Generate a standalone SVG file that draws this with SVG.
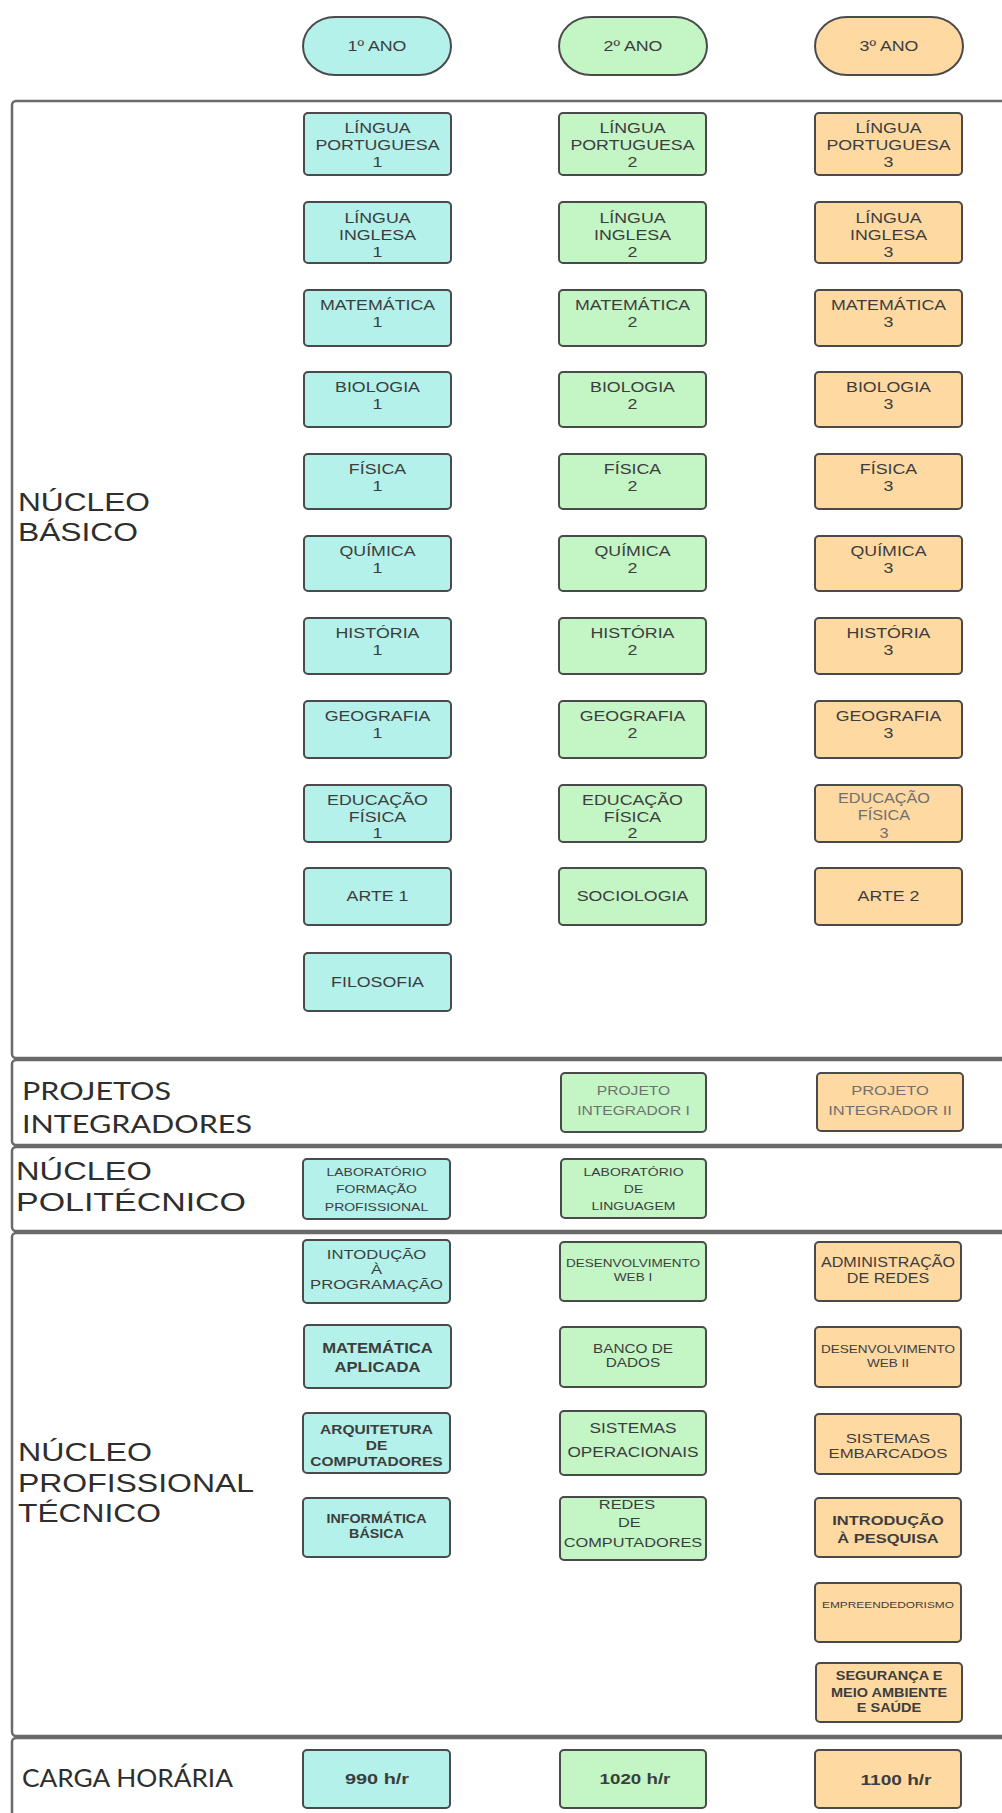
<svg xmlns="http://www.w3.org/2000/svg" width="1002" height="1813" viewBox="0 0 1002 1813">
<style>
.sec{fill:none;stroke:#6a6a6a;stroke-width:2.5}
.b{stroke:#4a4a4a;stroke-width:2}
.c1{fill:#b3f1ea}.c2{fill:#c3f5c5}.c3{fill:#fed9a2}
text{font-family:"Liberation Sans",Arial,sans-serif;fill:#3d3d3d}
.t text{text-anchor:middle;font-size:14px}
.lab{font-size:25px;fill:#2e2e2e}
.cal{font-family:Lato,"Liberation Sans",sans-serif}
.bd text{font-weight:bold}
.gr text{fill:#707070}
</style>
<rect width="1002" height="1813" fill="#ffffff"/>

<!-- sections -->
<g id="sections">
<g id="sec-basico"><rect class="sec" x="12" y="101" width="1010" height="957" rx="4"/>
<text class="lab" x="18" y="511" textLength="132" lengthAdjust="spacingAndGlyphs">NÚCLEO</text>
<text class="lab" x="18" y="541" textLength="120" lengthAdjust="spacingAndGlyphs">BÁSICO</text></g>
<g id="sec-projetos"><rect class="sec" x="12" y="1060" width="1010" height="85" rx="4"/>
<text class="lab cal" x="22" y="1100" font-size="24" textLength="149" lengthAdjust="spacingAndGlyphs">PROJETOS</text>
<text class="lab cal" x="22" y="1133" font-size="24" textLength="230" lengthAdjust="spacingAndGlyphs">INTEGRADORES</text></g>
<g id="sec-politecnico"><rect class="sec" x="12" y="1147" width="1010" height="84" rx="4"/>
<text class="lab" x="16" y="1180" textLength="136" lengthAdjust="spacingAndGlyphs">NÚCLEO</text>
<text class="lab" x="16" y="1211" textLength="230" lengthAdjust="spacingAndGlyphs">POLITÉCNICO</text></g>
<g id="sec-profissional"><rect class="sec" x="12" y="1233" width="1010" height="503" rx="4"/>
<text class="lab" x="18" y="1461" textLength="134" lengthAdjust="spacingAndGlyphs">NÚCLEO</text>
<text class="lab" x="18" y="1492" textLength="236" lengthAdjust="spacingAndGlyphs">PROFISSIONAL</text>
<text class="lab" x="18" y="1522" textLength="143" lengthAdjust="spacingAndGlyphs">TÉCNICO</text></g>
<g id="sec-carga"><rect class="sec" x="12" y="1738" width="1010" height="100" rx="4"/>
<text class="lab cal" x="22" y="1787" font-size="22" textLength="211" lengthAdjust="spacingAndGlyphs">CARGA HORÁRIA</text></g>
</g>

<!-- year headers -->
<g id="ano1"><rect class="b c1" x="303" y="17" width="148" height="58" rx="32" ry="29"/><g class="t" transform="translate(377 0) scale(1.27 1)"><text y="51">1º ANO</text></g></g>
<g id="ano2"><rect class="b c2" x="559" y="17" width="148" height="58" rx="32" ry="29"/><g class="t" transform="translate(633 0) scale(1.27 1)"><text y="51">2º ANO</text></g></g>
<g id="ano3"><rect class="b c3" x="815" y="17" width="148" height="58" rx="32" ry="29"/><g class="t" transform="translate(889 0) scale(1.27 1)"><text y="51">3º ANO</text></g></g>

<!-- núcleo básico -->
<g id="lp1"><rect class="b c1" x="304" y="113" width="147" height="62" rx="4"/><g class="t" transform="translate(377.5 0) scale(1.27 1)"><text y="133">LÍNGUA</text><text y="150">PORTUGUESA</text><text y="167">1</text></g></g>
<g id="lp2"><rect class="b c2" x="559" y="113" width="147" height="62" rx="4"/><g class="t" transform="translate(632.5 0) scale(1.27 1)"><text y="133">LÍNGUA</text><text y="150">PORTUGUESA</text><text y="167">2</text></g></g>
<g id="lp3"><rect class="b c3" x="815" y="113" width="147" height="62" rx="4"/><g class="t" transform="translate(888.5 0) scale(1.27 1)"><text y="133">LÍNGUA</text><text y="150">PORTUGUESA</text><text y="167">3</text></g></g>

<g id="li1"><rect class="b c1" x="304" y="202" width="147" height="61" rx="4"/><g class="t" transform="translate(377.5 0) scale(1.27 1)"><text y="223">LÍNGUA</text><text y="240">INGLESA</text><text y="257">1</text></g></g>
<g id="li2"><rect class="b c2" x="559" y="202" width="147" height="61" rx="4"/><g class="t" transform="translate(632.5 0) scale(1.27 1)"><text y="223">LÍNGUA</text><text y="240">INGLESA</text><text y="257">2</text></g></g>
<g id="li3"><rect class="b c3" x="815" y="202" width="147" height="61" rx="4"/><g class="t" transform="translate(888.5 0) scale(1.27 1)"><text y="223">LÍNGUA</text><text y="240">INGLESA</text><text y="257">3</text></g></g>

<g id="mat1"><rect class="b c1" x="304" y="290" width="147" height="56" rx="4"/><g class="t" transform="translate(377.5 0) scale(1.27 1)"><text y="310">MATEMÁTICA</text><text y="327">1</text></g></g>
<g id="mat2"><rect class="b c2" x="559" y="290" width="147" height="56" rx="4"/><g class="t" transform="translate(632.5 0) scale(1.27 1)"><text y="310">MATEMÁTICA</text><text y="327">2</text></g></g>
<g id="mat3"><rect class="b c3" x="815" y="290" width="147" height="56" rx="4"/><g class="t" transform="translate(888.5 0) scale(1.27 1)"><text y="310">MATEMÁTICA</text><text y="327">3</text></g></g>

<g id="bio1"><rect class="b c1" x="304" y="372" width="147" height="55" rx="4"/><g class="t" transform="translate(377.5 0) scale(1.27 1)"><text y="392">BIOLOGIA</text><text y="409">1</text></g></g>
<g id="bio2"><rect class="b c2" x="559" y="372" width="147" height="55" rx="4"/><g class="t" transform="translate(632.5 0) scale(1.27 1)"><text y="392">BIOLOGIA</text><text y="409">2</text></g></g>
<g id="bio3"><rect class="b c3" x="815" y="372" width="147" height="55" rx="4"/><g class="t" transform="translate(888.5 0) scale(1.27 1)"><text y="392">BIOLOGIA</text><text y="409">3</text></g></g>

<g id="fis1"><rect class="b c1" x="304" y="454" width="147" height="55" rx="4"/><g class="t" transform="translate(377.5 0) scale(1.27 1)"><text y="474">FÍSICA</text><text y="491">1</text></g></g>
<g id="fis2"><rect class="b c2" x="559" y="454" width="147" height="55" rx="4"/><g class="t" transform="translate(632.5 0) scale(1.27 1)"><text y="474">FÍSICA</text><text y="491">2</text></g></g>
<g id="fis3"><rect class="b c3" x="815" y="454" width="147" height="55" rx="4"/><g class="t" transform="translate(888.5 0) scale(1.27 1)"><text y="474">FÍSICA</text><text y="491">3</text></g></g>

<g id="qui1"><rect class="b c1" x="304" y="536" width="147" height="55" rx="4"/><g class="t" transform="translate(377.5 0) scale(1.27 1)"><text y="556">QUÍMICA</text><text y="573">1</text></g></g>
<g id="qui2"><rect class="b c2" x="559" y="536" width="147" height="55" rx="4"/><g class="t" transform="translate(632.5 0) scale(1.27 1)"><text y="556">QUÍMICA</text><text y="573">2</text></g></g>
<g id="qui3"><rect class="b c3" x="815" y="536" width="147" height="55" rx="4"/><g class="t" transform="translate(888.5 0) scale(1.27 1)"><text y="556">QUÍMICA</text><text y="573">3</text></g></g>

<g id="his1"><rect class="b c1" x="304" y="618" width="147" height="56" rx="4"/><g class="t" transform="translate(377.5 0) scale(1.27 1)"><text y="638">HISTÓRIA</text><text y="655">1</text></g></g>
<g id="his2"><rect class="b c2" x="559" y="618" width="147" height="56" rx="4"/><g class="t" transform="translate(632.5 0) scale(1.27 1)"><text y="638">HISTÓRIA</text><text y="655">2</text></g></g>
<g id="his3"><rect class="b c3" x="815" y="618" width="147" height="56" rx="4"/><g class="t" transform="translate(888.5 0) scale(1.27 1)"><text y="638">HISTÓRIA</text><text y="655">3</text></g></g>

<g id="geo1"><rect class="b c1" x="304" y="701" width="147" height="57" rx="4"/><g class="t" transform="translate(377.5 0) scale(1.27 1)"><text y="721">GEOGRAFIA</text><text y="738">1</text></g></g>
<g id="geo2"><rect class="b c2" x="559" y="701" width="147" height="57" rx="4"/><g class="t" transform="translate(632.5 0) scale(1.27 1)"><text y="721">GEOGRAFIA</text><text y="738">2</text></g></g>
<g id="geo3"><rect class="b c3" x="815" y="701" width="147" height="57" rx="4"/><g class="t" transform="translate(888.5 0) scale(1.27 1)"><text y="721">GEOGRAFIA</text><text y="738">3</text></g></g>

<g id="edf1"><rect class="b c1" x="304" y="785" width="147" height="57" rx="4"/><g class="t" transform="translate(377.5 0) scale(1.27 1)"><text y="805">EDUCAÇÃO</text><text y="822">FÍSICA</text><text y="838">1</text></g></g>
<g id="edf2"><rect class="b c2" x="559" y="785" width="147" height="57" rx="4"/><g class="t" transform="translate(632.5 0) scale(1.27 1)"><text y="805">EDUCAÇÃO</text><text y="822">FÍSICA</text><text y="838">2</text></g></g>
<g id="edf3"><rect class="b c3" x="815" y="785" width="147" height="57" rx="4"/><g class="t gr" transform="translate(884 0) scale(1.16 1)"><text y="803">EDUCAÇÃO</text><text y="820">FÍSICA</text><text y="838">3</text></g></g>

<g id="arte1"><rect class="b c1" x="304" y="868" width="147" height="57" rx="4"/><g class="t" transform="translate(377.5 0) scale(1.27 1)"><text y="901">ARTE 1</text></g></g>
<g id="soc2"><rect class="b c2" x="559" y="868" width="147" height="57" rx="4"/><g class="t" transform="translate(632.5 0) scale(1.27 1)"><text y="901">SOCIOLOGIA</text></g></g>
<g id="arte2"><rect class="b c3" x="815" y="868" width="147" height="57" rx="4"/><g class="t" transform="translate(888.5 0) scale(1.27 1)"><text y="901">ARTE 2</text></g></g>

<g id="filo1"><rect class="b c1" x="304" y="953" width="147" height="58" rx="4"/><g class="t" transform="translate(377.5 0) scale(1.27 1)"><text y="987">FILOSOFIA</text></g></g>

<!-- projetos integradores -->
<g id="pi1"><rect class="b c2" x="561" y="1073" width="145" height="59" rx="4"/><g class="t gr" transform="translate(633.5 0) scale(1.25 1)"><text y="1095" style="font-size:12.5px">PROJETO</text><text y="1115" style="font-size:12.5px">INTEGRADOR I</text></g></g>
<g id="pi2"><rect class="b c3" x="817" y="1073" width="146" height="58" rx="4"/><g class="t gr" transform="translate(890 0) scale(1.32 1)"><text y="1095" style="font-size:12.5px">PROJETO</text><text y="1115" style="font-size:12.5px">INTEGRADOR II</text></g></g>

<!-- núcleo politécnico -->
<g id="lfp1"><rect class="b c1" x="303" y="1159" width="147" height="60" rx="4"/><g class="t" transform="translate(376.5 0) scale(1.4 1)"><text y="1176" style="font-size:10px">LABORATÓRIO</text><text y="1193" style="font-size:10px">FORMAÇÃO</text><text y="1211" style="font-size:10px">PROFISSIONAL</text></g></g>
<g id="ll2"><rect class="b c2" x="561" y="1159" width="145" height="59" rx="4"/><g class="t" transform="translate(633.5 0) scale(1.4 1)"><text y="1176" style="font-size:10px">LABORATÓRIO</text><text y="1193" style="font-size:10px">DE</text><text y="1210" style="font-size:10px">LINGUAGEM</text></g></g>

<!-- núcleo profissional técnico -->
<g id="ip1"><rect class="b c1" x="303" y="1240" width="147" height="63" rx="4"/><g class="t" transform="translate(376.5 0) scale(1.33 1)"><text y="1259" style="font-size:12.5px">INTODUÇÃO</text><text y="1274" style="font-size:12.5px">À</text><text y="1289" style="font-size:12.5px">PROGRAMAÇÃO</text></g></g>
<g id="ma1"><rect class="b c1" x="304" y="1325" width="147" height="63" rx="4"/><g class="t bd" transform="translate(377.5 0) scale(1.19 1)"><text y="1353">MATEMÁTICA</text><text y="1372">APLICADA</text></g></g>
<g id="arq1"><rect class="b c1" x="303" y="1413" width="147" height="60" rx="4"/><g class="t bd" transform="translate(376.5 0) scale(1.15 1)"><text y="1434" style="font-size:13.5px">ARQUITETURA</text><text y="1450" style="font-size:13.5px">DE</text><text y="1466" style="font-size:13.5px">COMPUTADORES</text></g></g>
<g id="inf1"><rect class="b c1" x="303" y="1498" width="147" height="59" rx="4"/><g class="t bd" transform="translate(376.5 0) scale(1.1 1)"><text y="1523" style="font-size:13px">INFORMÁTICA</text><text y="1538" style="font-size:13px">BÁSICA</text></g></g>

<g id="dw1"><rect class="b c2" x="560" y="1242" width="146" height="59" rx="4"/><g class="t" transform="translate(633 0) scale(1.29 1)"><text y="1267" style="font-size:10.5px">DESENVOLVIMENTO</text><text y="1281" style="font-size:10.5px">WEB I</text></g></g>
<g id="bd2"><rect class="b c2" x="560" y="1327" width="146" height="60" rx="4"/><g class="t" transform="translate(633 0) scale(1.18 1)"><text y="1353" style="font-size:13px">BANCO DE</text><text y="1367" style="font-size:13px">DADOS</text></g></g>
<g id="so2"><rect class="b c2" x="560" y="1411" width="146" height="64" rx="4"/><g class="t" transform="translate(633 0) scale(1.23 1)"><text y="1433">SISTEMAS</text><text y="1457">OPERACIONAIS</text></g></g>
<g id="redes2"><rect class="b c2" x="560" y="1497" width="146" height="63" rx="4"/><g class="t" transform="translate(633 0) scale(1.21 1)"><text x="-5" y="1509" style="font-size:13.5px">REDES</text><text x="-3" y="1527" style="font-size:13.5px">DE</text><text y="1547" style="font-size:13.5px">COMPUTADORES</text></g></g>

<g id="adm3"><rect class="b c3" x="815" y="1242" width="146" height="59" rx="4"/><g class="t" transform="translate(888 0) scale(1.15 1)"><text y="1267">ADMINISTRAÇÃO</text><text y="1283">DE REDES</text></g></g>
<g id="dw3"><rect class="b c3" x="815" y="1327" width="146" height="60" rx="4"/><g class="t" transform="translate(888 0) scale(1.29 1)"><text y="1353" style="font-size:10.5px">DESENVOLVIMENTO</text><text y="1367" style="font-size:10.5px">WEB II</text></g></g>
<g id="se3"><rect class="b c3" x="815" y="1414" width="146" height="60" rx="4"/><g class="t" transform="translate(888 0) scale(1.24 1)"><text y="1443" style="font-size:13.5px">SISTEMAS</text><text y="1458" style="font-size:13.5px">EMBARCADOS</text></g></g>
<g id="intro3"><rect class="b c3" x="815" y="1498" width="146" height="59" rx="4"/><g class="t bd" transform="translate(888 0) scale(1.22 1)"><text y="1525" style="font-size:13.5px">INTRODUÇÃO</text><text y="1543" style="font-size:13.5px">À PESQUISA</text></g></g>
<g id="emp3"><rect class="b c3" x="815" y="1583" width="146" height="59" rx="4"/><g class="t" transform="translate(888 0) scale(1.25 1)"><text y="1608" style="font-size:9.5px">EMPREENDEDORISMO</text></g></g>
<g id="seg3"><rect class="b c3" x="816" y="1663" width="146" height="59" rx="4"/><g class="t bd" transform="translate(889 0) scale(1.21 1)"><text y="1680" style="font-size:12px">SEGURANÇA E</text><text y="1697" style="font-size:12px">MEIO AMBIENTE</text><text y="1712" style="font-size:12px">E SAÚDE</text></g></g>

<!-- carga horária -->
<g id="ch1"><rect class="b c1" x="303" y="1750" width="147" height="58" rx="4"/><g class="t bd" transform="translate(377 0) scale(1.33 1)"><text y="1784" style="font-size:15px">990 h/r</text></g></g>
<g id="ch2"><rect class="b c2" x="560" y="1750" width="146" height="58" rx="4"/><g class="t bd" transform="translate(635 0) scale(1.25 1)"><text y="1784" style="font-size:15px">1020 h/r</text></g></g>
<g id="ch3"><rect class="b c3" x="815" y="1750" width="146" height="58" rx="4"/><g class="t bd" transform="translate(896 0) scale(1.27 1)"><text y="1785" style="font-size:15px">1100 h/r</text></g></g>

<g id="connectors"></g>
</svg>
